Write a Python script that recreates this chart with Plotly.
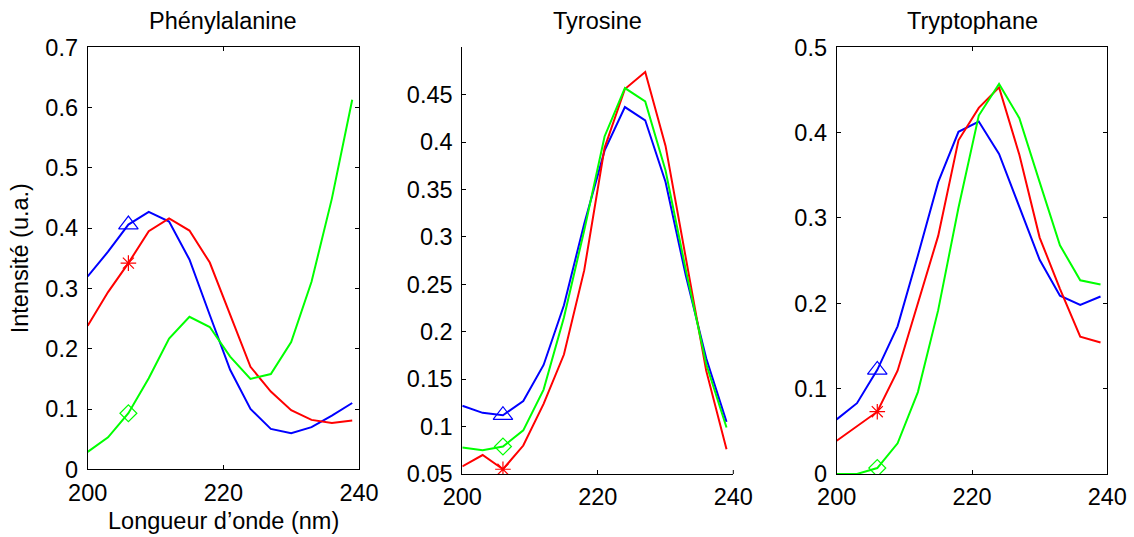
import plotly.graph_objects as go

W, H = 1134, 537
FONT = "Liberation Sans"
FS = 23.5

wavelength = [200, 203, 206, 209, 212, 215, 218, 221, 224, 227, 230, 233, 236, 239]
marker_x = 206

titles = ["Phénylalanine", "Tyrosine", "Tryptophane"]
x_label = "Longueur d’onde (nm)"
y_label = "Intensité (u.a.)"

# Phénylalanine
phe_blue = [0.320, 0.361, 0.406, 0.427, 0.411, 0.348, 0.256, 0.165, 0.100, 0.067, 0.060, 0.070, 0.089, 0.110]
phe_red = [0.238, 0.294, 0.342, 0.395, 0.416, 0.396, 0.343, 0.256, 0.170, 0.129, 0.098, 0.082, 0.077, 0.081]
phe_green = [0.029, 0.053, 0.093, 0.151, 0.217, 0.253, 0.236, 0.187, 0.150, 0.158, 0.211, 0.311, 0.449, 0.613]
# Tyrosine
tyr_blue = [0.122, 0.1145, 0.112, 0.127, 0.165, 0.228, 0.314, 0.391, 0.437, 0.423, 0.358, 0.259, 0.172, 0.105]
tyr_red = [0.058, 0.070, 0.055, 0.080, 0.124, 0.176, 0.265, 0.394, 0.456, 0.474, 0.396, 0.279, 0.159, 0.076]
tyr_green = [0.078, 0.075, 0.079, 0.096, 0.139, 0.215, 0.307, 0.406, 0.457, 0.443, 0.370, 0.265, 0.166, 0.099]
# Tryptophane
trp_blue = [0.064, 0.083, 0.122, 0.173, 0.256, 0.342, 0.401, 0.413, 0.375, 0.312, 0.251, 0.209, 0.198, 0.208]
trp_red = [0.039, 0.056, 0.073, 0.121, 0.199, 0.279, 0.391, 0.429, 0.453, 0.374, 0.277, 0.217, 0.161, 0.154]
trp_green = [0.0, 0.0, 0.007, 0.036, 0.096, 0.192, 0.312, 0.420, 0.457, 0.417, 0.342, 0.268, 0.227, 0.222]

x_ticks = [200, 220, 240]
y_ticks = [
    [0, 0.1, 0.2, 0.3, 0.4, 0.5, 0.6, 0.7],
    [0.05, 0.1, 0.15, 0.2, 0.25, 0.3, 0.35, 0.4, 0.45],
    [0, 0.1, 0.2, 0.3, 0.4, 0.5],
]
y_tick_text = [
    ["0", "0.1", "0.2", "0.3", "0.4", "0.5", "0.6", "0.7"],
    ["0.05", "0.1", "0.15", "0.2", "0.25", "0.3", "0.35", "0.4", "0.45"],
    ["0", "0.1", "0.2", "0.3", "0.4", "0.5"],
]
y_ranges = [[0, 0.7], [0.05, 0.5], [0, 0.5]]

panels = [
    (phe_blue, phe_red, phe_green),
    (tyr_blue, tyr_red, tyr_green),
    (trp_blue, trp_red, trp_green),
]

# pixel boxes: (left, right, top, bottom)
boxes = [(87.7, 359.0, 47.3, 469.3), (462.3, 733.3, 47.3, 474.0), (836.7, 1107.3, 47.3, 474.0)]

BLUE, RED, GREEN = "#0000FF", "#FF0000", "#00FF00"
series_style = [
    (BLUE, "triangle-up-open", 17),
    (RED, "asterisk-open", 13),
    (GREEN, "diamond-open", 13),
]

fig = go.Figure()
for i, (vals, box) in enumerate(zip(panels, boxes)):
    xa = "x" if i == 0 else f"x{i+1}"
    ya = "y" if i == 0 else f"y{i+1}"
    for v, (col, sym, sz) in zip(vals, series_style):
        fig.add_trace(go.Scatter(x=wavelength, y=v, mode="lines",
                                 line=dict(color=col, width=2),
                                 xaxis=xa, yaxis=ya, showlegend=False,
                                 hoverinfo="skip"))
        idx = wavelength.index(marker_x)
        fig.add_trace(go.Scatter(x=[marker_x], y=[v[idx]], mode="markers",
                                 marker=dict(symbol=sym, size=sz, color=col,
                                             line=dict(color=col, width=1.2)),
                                 xaxis=xa, yaxis=ya, showlegend=False,
                                 hoverinfo="skip"))

layout = dict(
    width=W, height=H,
    margin=dict(l=0, r=0, t=0, b=0, autoexpand=False),
    paper_bgcolor="white", plot_bgcolor="white",
    font=dict(family=FONT, size=FS, color="black"),
    annotations=[],
)
for i, box in enumerate(boxes):
    l, r, t, b = box
    mirror = "ticks" if i != 1 else False
    xk = "xaxis" if i == 0 else f"xaxis{i+1}"
    yk = "yaxis" if i == 0 else f"yaxis{i+1}"
    layout[xk] = dict(
        domain=[l / W, r / W], anchor="y" if i == 0 else f"y{i+1}",
        range=[200, 240], tickvals=x_ticks, ticktext=[str(t_) for t_ in x_ticks],
        ticks="inside", ticklen=4, tickwidth=1, tickcolor="black",
        showline=True, linecolor="black", linewidth=1, mirror=mirror,
        showgrid=False, zeroline=False, fixedrange=True, automargin=False,
        tickfont=dict(size=FS), ticklabelstandoff=2,
    )
    layout[yk] = dict(
        domain=[(H - b) / H, (H - t) / H], anchor="x" if i == 0 else f"x{i+1}",
        range=y_ranges[i], tickvals=y_ticks[i], ticktext=y_tick_text[i],
        ticks="inside", ticklen=4, tickwidth=1, tickcolor="black",
        showline=True, linecolor="black", linewidth=1, mirror=mirror,
        showgrid=False, zeroline=False, fixedrange=True, automargin=False,
        tickfont=dict(size=FS), ticklabelstandoff=4,
    )
    layout["annotations"].append(dict(
        text=titles[i], x=(l + r) / 2 / W, y=(H - 21) / H, xref="paper", yref="paper",
        xanchor="center", yanchor="middle", showarrow=False,
        font=dict(family=FONT, size=FS, color="black")))

# tick on the right end of the bottom axis of the box-less panel
l2, r2, t2, b2 = boxes[1]
layout["shapes"] = [dict(type="line", xref="paper", yref="paper",
                         x0=r2 / W, x1=r2 / W, y0=(H - b2) / H, y1=(H - b2 + 4) / H,
                         line=dict(color="black", width=1))]

l1, r1, t1, b1 = boxes[0]
layout["annotations"].append(dict(
    text=x_label, x=(l1 + r1) / 2 / W, y=(H - 521) / H, xref="paper", yref="paper",
    xanchor="center", yanchor="middle", showarrow=False,
    font=dict(family=FONT, size=FS, color="black")))
layout["annotations"].append(dict(
    text=y_label, x=20 / W, y=(H - (t1 + b1) / 2) / H, xref="paper", yref="paper",
    xanchor="center", yanchor="middle", showarrow=False, textangle=-90,
    font=dict(family=FONT, size=FS, color="black")))

fig.update_layout(**layout)
fig.write_html("out.html", config={"displayModeBar": False},
               post_script="document.body.style.margin='0px';document.body.style.overflow='hidden';")
